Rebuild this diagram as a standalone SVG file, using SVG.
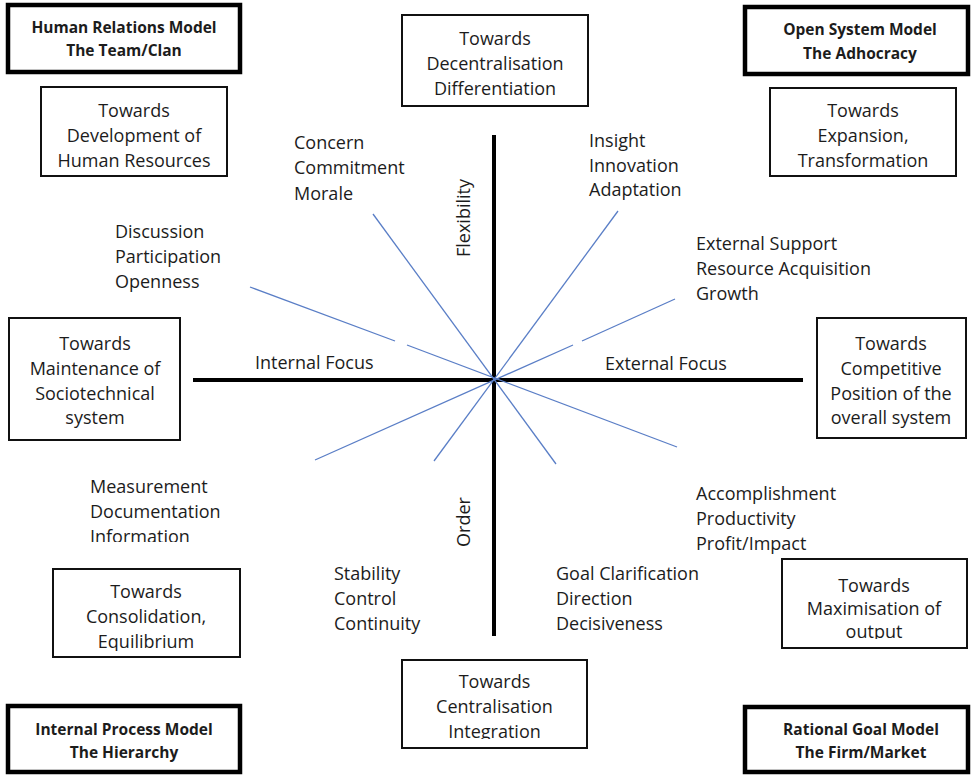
<svg xmlns="http://www.w3.org/2000/svg" width="972" height="775" viewBox="0 0 972 775">
<style>
text{font-family:"Open Sans","Liberation Sans",sans-serif;fill:#1c1c1c;}
.t{font-size:18px;}
.c{text-anchor:middle;}
.b{font-size:15.5px;font-weight:bold;text-anchor:middle;}
.box{fill:#fff;stroke:#111;stroke-width:2;}
.tbox{fill:#fff;stroke:#000;stroke-width:4.5;}
.axis{stroke:#000;stroke-width:4;}
.ray{stroke:#5a7ec6;stroke-width:1.3;fill:none;}
</style>
<defs>
<clipPath id="clipInt"><rect x="400" y="650" width="190" height="89"/></clipPath>
<clipPath id="clipOut"><rect x="780" y="550" width="190" height="89"/></clipPath>
<clipPath id="clipEq"><rect x="50" y="560" width="195" height="91"/></clipPath>
<clipPath id="clipInf"><rect x="80" y="460" width="160" height="82"/></clipPath>
</defs>
<rect width="972" height="775" fill="#fff"/>
<g id="connectors">
<line class="axis" x1="494" y1="135" x2="494" y2="636"/>
<line class="axis" x1="193" y1="380" x2="803" y2="380"/>
<line class="ray" x1="373" y1="214" x2="556" y2="464"/>
<line class="ray" x1="618" y1="211" x2="434" y2="461"/>
<line class="ray" x1="250" y1="287" x2="395" y2="341"/>
<line class="ray" x1="407" y1="345" x2="677" y2="447"/>
<line class="ray" x1="675" y1="299" x2="582" y2="341"/>
<line class="ray" x1="573" y1="345" x2="315" y2="460"/>
</g>
<g id="human-relations"><rect class="tbox" x="8" y="5" width="232" height="67"/><text class="b" x="124" y="33">Human Relations Model</text><text class="b" x="124" y="56">The Team/Clan</text></g>
<g id="development"><rect class="box" x="41" y="87" width="186" height="89"/><text class="t c" x="134" y="117">Towards</text><text class="t c" x="134" y="142">Development of</text><text class="t c" x="134" y="167">Human Resources</text></g>
<g id="decentralisation"><rect class="box" x="402" y="15" width="186" height="91"/><text class="t c" x="495" y="45">Towards</text><text class="t c" x="495" y="70">Decentralisation</text><text class="t c" x="495" y="95">Differentiation</text></g>
<g id="open-system"><rect class="tbox" x="745" y="7" width="223" height="67"/><text class="b" x="860" y="35">Open System Model</text><text class="b" x="860" y="59">The Adhocracy</text></g>
<g id="expansion"><rect class="box" x="770" y="88" width="186" height="88"/><text class="t c" x="863" y="117">Towards</text><text class="t c" x="863" y="142">Expansion,</text><text class="t c" x="863" y="167">Transformation</text></g>
<g id="maintenance"><rect class="box" x="9" y="318" width="171" height="122"/><text class="t c" x="95" y="350">Towards</text><text class="t c" x="95" y="375">Maintenance of</text><text class="t c" x="95" y="400">Sociotechnical</text><text class="t c" x="95" y="424">system</text></g>
<g id="competitive"><rect class="box" x="817" y="318" width="149" height="120"/><text class="t c" x="891" y="350">Towards</text><text class="t c" x="891" y="375">Competitive</text><text class="t c" x="891" y="400">Position of the</text><text class="t c" x="891" y="424">overall system</text></g>
<g id="consolidation"><rect class="box" x="53" y="569" width="187" height="88"/><text class="t c" x="146" y="598">Towards</text><text class="t c" x="146" y="623">Consolidation,</text><text class="t c" x="146" y="648" clip-path="url(#clipEq)">Equilibrium</text></g>
<g id="internal-process"><rect class="tbox" x="8" y="706" width="232" height="66"/><text class="b" x="124" y="735">Internal Process Model</text><text class="b" x="124" y="758">The Hierarchy</text></g>
<g id="centralisation"><rect class="box" x="402" y="660" width="185" height="88"/><text class="t c" x="494.5" y="688">Towards</text><text class="t c" x="494.5" y="713">Centralisation</text><text class="t c" x="494.5" y="738" clip-path="url(#clipInt)">Integration</text></g>
<g id="maximisation"><rect class="box" x="782" y="559" width="185" height="89"/><text class="t c" x="874" y="592">Towards</text><text class="t c" x="874" y="615">Maximisation of</text><text class="t c" x="874" y="638" clip-path="url(#clipOut)">output</text></g>
<g id="rational-goal"><rect class="tbox" x="745" y="707" width="223" height="65"/><text class="b" x="861" y="735">Rational Goal Model</text><text class="b" x="861" y="758">The Firm/Market</text></g>
<g id="labels">
<text class="t" x="294" y="149">Concern</text><text class="t" x="294" y="174">Commitment</text><text class="t" x="294" y="200">Morale</text>
<text class="t" x="589" y="147">Insight</text><text class="t" x="589" y="172">Innovation</text><text class="t" x="589" y="196">Adaptation</text>
<text class="t" x="696" y="250">External Support</text><text class="t" x="696" y="275">Resource Acquisition</text><text class="t" x="696" y="300">Growth</text>
<text class="t" x="115" y="238">Discussion</text><text class="t" x="115" y="263">Participation</text><text class="t" x="115" y="288">Openness</text>
<text class="t" x="255" y="369">Internal Focus</text>
<text class="t" x="605" y="370">External Focus</text>
<text class="t c" transform="translate(470,218) rotate(-90)">Flexibility</text>
<text class="t c" transform="translate(470,522) rotate(-90)">Order</text>
<text class="t" x="696" y="500">Accomplishment</text><text class="t" x="696" y="525">Productivity</text><text class="t" x="696" y="550">Profit/Impact</text>
<g clip-path="url(#clipInf)"><text class="t" x="90" y="493">Measurement</text><text class="t" x="90" y="518">Documentation</text><text class="t" x="90" y="543">Information</text></g>
<text class="t" x="334" y="580">Stability</text><text class="t" x="334" y="605">Control</text><text class="t" x="334" y="630">Continuity</text>
<text class="t" x="556" y="580">Goal Clarification</text><text class="t" x="556" y="605">Direction</text><text class="t" x="556" y="630">Decisiveness</text>
</g>
</svg>
